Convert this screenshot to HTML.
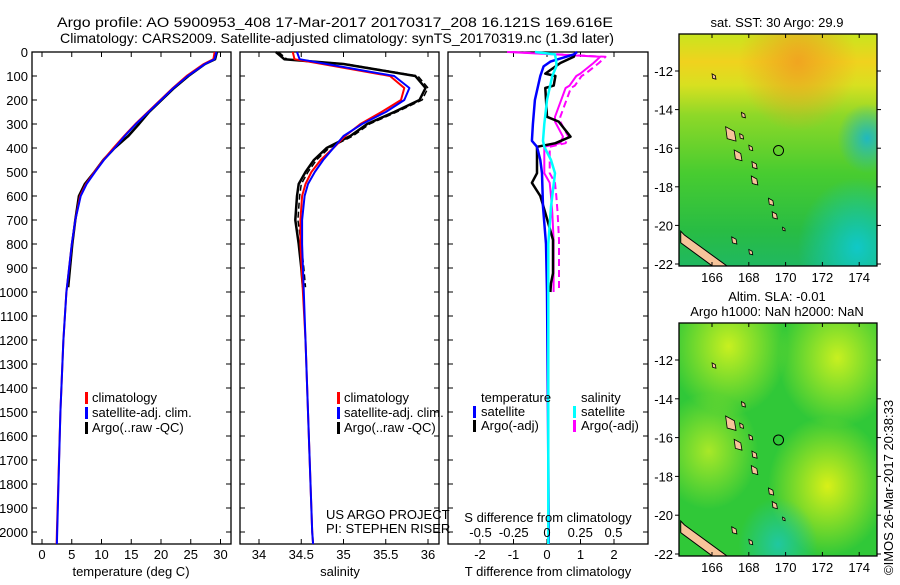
<!DOCTYPE html>
<html><head><meta charset="utf-8"><style>
html,body{margin:0;padding:0;background:#fff}
svg text{font-family:"Liberation Sans",sans-serif;font-size:13px;fill:#000}
</style></head><body>
<svg id="fig" width="900" height="580" viewBox="0 0 900 580" xmlns="http://www.w3.org/2000/svg">
<defs>
<linearGradient id="sstg" x1="0" y1="0" x2="0" y2="1">
<stop offset="0" stop-color="#c8e61e"/><stop offset="0.12" stop-color="#f0d21e"/><stop offset="0.22" stop-color="#d8e020"/><stop offset="0.35" stop-color="#8ed828"/><stop offset="0.6" stop-color="#48cc30"/><stop offset="0.85" stop-color="#28bc44"/><stop offset="1" stop-color="#20b860"/>
</linearGradient>
<radialGradient id="sstorange" cx="0.6" cy="0.12" r="0.3"><stop offset="0" stop-color="#f0a020" stop-opacity="0.9"/><stop offset="1" stop-color="#f0a020" stop-opacity="0"/></radialGradient>
<radialGradient id="sstcyan" cx="0.9" cy="0.92" r="0.3"><stop offset="0" stop-color="#10c8c8"/><stop offset="1" stop-color="#10c8c8" stop-opacity="0"/></radialGradient>
<radialGradient id="sstcyan2" cx="0.95" cy="0.45" r="0.15"><stop offset="0" stop-color="#20b8c0"/><stop offset="1" stop-color="#20b8c0" stop-opacity="0"/></radialGradient>
<radialGradient id="slay1" cx="0.25" cy="0.1" r="0.3"><stop offset="0" stop-color="#c8f020"/><stop offset="1" stop-color="#c8f020" stop-opacity="0"/></radialGradient>
<radialGradient id="slay2" cx="0.8" cy="0.15" r="0.3"><stop offset="0" stop-color="#c8f020"/><stop offset="1" stop-color="#c8f020" stop-opacity="0"/></radialGradient>
<radialGradient id="slay3" cx="0.75" cy="0.7" r="0.3"><stop offset="0" stop-color="#d8f018"/><stop offset="1" stop-color="#d8f018" stop-opacity="0"/></radialGradient>
<radialGradient id="slay4" cx="0.15" cy="0.55" r="0.25"><stop offset="0" stop-color="#a8e828"/><stop offset="1" stop-color="#a8e828" stop-opacity="0"/></radialGradient>
<radialGradient id="slac" cx="0.5" cy="0.95" r="0.2"><stop offset="0" stop-color="#20c8a0"/><stop offset="1" stop-color="#20c8a0" stop-opacity="0"/></radialGradient>
</defs>
<text x="57" y="27" textLength="556" lengthAdjust="spacingAndGlyphs" style="font-size:14px">Argo profile: AO 5900953_408 17-Mar-2017 20170317_208 16.121S 169.616E</text>
<text x="60" y="43" textLength="554" lengthAdjust="spacingAndGlyphs" style="font-size:14px">Climatology: CARS2009. Satellite-adjusted climatology: synTS_20170319.nc (1.3d later)</text>
<g id="p1"></g>
<g id="p2"></g>
<g id="p3"></g>
<g id="m1"></g>
<g id="m2"></g>
<text x="777" y="27" text-anchor="middle">sat. SST: 30 Argo: 29.9</text>
<text x="777" y="301" text-anchor="middle">Altim. SLA: -0.01</text>
<text x="777" y="316" text-anchor="middle">Argo h1000: NaN h2000: NaN</text>
<text transform="translate(893,575) rotate(-90)">©IMOS 26-Mar-2017 20:38:33</text>
</svg>
<script>
const NS='http://www.w3.org/2000/svg';
// ---- data ----
const depthTicks=[0,100,200,300,400,500,600,700,800,900,1000,1100,1200,1300,1400,1500,1600,1700,1800,1900,2000];
const tempTicks=[0,5,10,15,20,25,30];
const salTicks=[34,34.5,35,35.5,36];
const salTickLabels=['34','34.5','35','35.5','36'];
const tdTicks=[-2,-1,0,1,2];
const sdTicks=[-0.5,-0.25,0,0.25,0.5];
const sdTickLabels=['-0.5','-0.25','0','0.25','0.5'];
const lonTicks=[166,168,170,172,174];
const latTicks1=[-12,-14,-16,-18,-20,-22];
const latTicks2=[-12,-14,-16,-18,-20,-22];

const climDepth=[0,30,50,100,150,200,250,300,350,400,450,500,550,600,700,800,1000,1200,1500,2000,2050];
const climTemp=[29.0,28.8,27.2,24.3,22.0,19.9,17.8,15.7,13.8,12.0,10.3,8.8,7.4,6.4,5.6,5.0,4.1,3.6,3.1,2.5,2.45];
const satTemp=[29.3,29.0,27.4,24.5,22.1,20.0,17.9,15.8,13.9,12.2,10.4,8.9,7.5,6.5,5.6,5.0,4.1,3.6,3.1,2.55,2.5];
const argoDepth=[0,30,50,100,150,200,250,300,350,400,450,500,550,600,700,800,900,980];
const argoTemp=[29.4,29.1,27.4,24.6,22.2,20.1,18.0,16.3,14.5,12.2,10.3,8.8,7.2,6.2,5.6,5.1,4.7,4.4];

const climSal=[34.4,34.42,34.75,35.55,35.72,35.68,35.45,35.2,35.02,34.88,34.73,34.62,34.55,34.51,34.49,34.49,34.52,34.55,34.58,34.63,34.64];
const satSal=[34.45,34.48,34.8,35.6,35.78,35.72,35.5,35.22,35.0,34.88,34.76,34.66,34.58,34.54,34.51,34.51,34.53,34.55,34.58,34.63,34.64];
const argoSal=[34.2,34.3,35.0,35.85,35.97,35.9,35.6,35.28,35.08,34.8,34.65,34.55,34.47,34.45,34.43,34.47,34.5,34.52];

const satDiffDepth=[0,10,40,60,100,200,300,370,395,450,505,645,800,1000,1500,2000,2050];
const satTDiff=[0.9,0.8,0.1,-0.1,-0.2,-0.36,-0.42,-0.45,-0.3,-0.2,-0.15,-0.12,-0.03,0.0,0.03,0.05,0.05];
const satSDiff=[-0.09,0.06,0.07,0.07,0.04,0.0,-0.02,-0.03,-0.02,0.03,0.06,0.03,0.01,0.01,0.01,0.01,0.01];
const argoDiffDepth=[0,20,46,90,100,140,150,270,290,353,380,395,505,545,600,670,783,922,963,1000];
const argoTDiff=[0.85,0.8,0.4,-0.05,0.25,0.2,-0.05,0.0,0.35,0.7,0.25,-0.3,-0.3,-0.45,-0.2,-0.05,0.18,0.18,0.12,0.1];
const argoSDiff=[-0.3,0.4,0.35,0.25,0.22,0.17,0.14,0.06,0.06,0.12,0.1,-0.02,-0.02,0.02,0.03,0.04,0.05,0.05,0.05,0.05];

const islandLon=[167.0,167.4,168.1,168.3,168.3,169.2,169.4,167.2,168.1,166.1,167.7,169.9,167.6];
const islandLat=[-15.3,-16.4,-16.0,-16.9,-17.7,-18.8,-19.5,-20.8,-21.4,-12.3,-14.3,-20.2,-15.4];
const islandSize=[8,6,3,4,5,4,4,4,3,3,3,2,3];
const argoLon=169.616, argoLat=-16.121;

// ---- helpers ----
function mk(tag,attrs,parent){const e=document.createElementNS(NS,tag);for(const k in attrs)e.setAttribute(k,attrs[k]);parent.appendChild(e);return e;}
const Y0=52,YPX=0.24;
const yD=d=>Y0+d*YPX;
function frame(g,x0,x1,yt,yb){const r=mk('rect',{x:x0,y:yt,width:x1-x0,height:yb-yt,fill:'none',stroke:'#000','stroke-width':1.3},g);}
function line(g,xs,ds,xf,color,name,w,dash){
  const pts=xs.map((v,i)=>xf(v).toFixed(1)+','+yD(ds[i]).toFixed(1)).join(' ');
  const p=mk('polyline',{points:pts,fill:'none',stroke:color,'stroke-width':w||2,'stroke-linejoin':'round'},g);
  if(dash)p.setAttribute('stroke-dasharray',dash);
  
  
}
function txt(g,x,y,s,anchor,name){const t=mk('text',{x:x,y:y,'text-anchor':anchor||'start'},g);t.textContent=s;return t;}
function tick(g,x1,y1,x2,y2){const l=mk('line',{x1:x1,y1:y1,x2:x2,y2:y2,stroke:'#000','stroke-width':1},g);}
function legendMark(g,x,y,color,name){const r=mk('rect',{x:x,y:y-10,width:3,height:12,fill:color},g);}
const TOP=52,BOT=544;

// ---- panel 1: temperature ----
const p1=document.getElementById('p1');
const xT=t=>42+t*5.95;
frame(p1,32,231,TOP,BOT);
depthTicks.forEach(d=>{tick(p1,32,yD(d),37,yD(d));tick(p1,226,yD(d),231,yD(d));txt(p1,28,yD(d)+5,String(d),'end','depth-tick-label');});
tempTicks.forEach(t=>{tick(p1,xT(t),BOT,xT(t),BOT-5);tick(p1,xT(t),TOP,xT(t),TOP+5);txt(p1,xT(t),559,String(t),'middle','temp-tick-label');});
txt(p1,131,576,'temperature (deg C)','middle','temp-axis-title');
line(p1,argoTemp,argoDepth,xT,'#000','argo-temp-line',2.5);
line(p1,climTemp,climDepth,xT,'#f00','clim-temp-line',2);
line(p1,satTemp,climDepth,xT,'#00f','sat-temp-line',2);
legendMark(p1,85,402,'#f00','legend-clim-mark');txt(p1,92,402,'climatology','start','legend-clim');
legendMark(p1,85,417,'#00f','legend-sat-mark');txt(p1,92,417,'satellite-adj. clim.','start','legend-sat');
legendMark(p1,85,432,'#000','legend-argo-mark');txt(p1,92,432,'Argo(..raw -QC)','start','legend-argo');

// ---- panel 2: salinity ----
const p2=document.getElementById('p2');
const xS=s=>259+(s-34)*84.5;
frame(p2,240,439,TOP,BOT);
depthTicks.forEach(d=>{tick(p2,240,yD(d),245,yD(d));tick(p2,434,yD(d),439,yD(d));});
salTicks.forEach((s,i)=>{tick(p2,xS(s),BOT,xS(s),BOT-5);tick(p2,xS(s),TOP,xS(s),TOP+5);txt(p2,xS(s),559,salTickLabels[i],'middle','sal-tick-label');});
txt(p2,340,576,'salinity','middle','sal-axis-title');
line(p2,argoSal,argoDepth,xS,'#000','argo-sal-line',2.5);
line(p2,argoSal.map(v=>v+0.03),argoDepth,xS,'#000','argo-sal-line-2',1.5,'6,3');
line(p2,climSal,climDepth,xS,'#f00','clim-sal-line',2);
line(p2,satSal,climDepth,xS,'#00f','sat-sal-line',2);
legendMark(p2,337,402,'#f00','legend-clim-mark');txt(p2,344,402,'climatology','start','legend-clim');
legendMark(p2,337,417,'#00f','legend-sat-mark');txt(p2,344,417,'satellite-adj. clim.','start','legend-sat');
legendMark(p2,337,432,'#000','legend-argo-mark');txt(p2,344,432,'Argo(..raw -QC)','start','legend-argo');
txt(p2,326,519,'US ARGO PROJECT','start','project-label');
txt(p2,326,533,'PI: STEPHEN RISER','start','pi-label');

// ---- panel 3: differences ----
const p3=document.getElementById('p3');
const xTD=t=>547+t*33.5;
const xSD=s=>547+s*133;
frame(p3,448,648,TOP,BOT);
depthTicks.forEach(d=>{tick(p3,448,yD(d),453,yD(d));tick(p3,643,yD(d),648,yD(d));});
tdTicks.forEach(t=>{tick(p3,xTD(t),BOT,xTD(t),BOT-5);tick(p3,xTD(t),TOP,xTD(t),TOP+5);txt(p3,xTD(t),559,String(t),'middle','tdiff-tick-label');});
line(p3,argoSDiff,argoDiffDepth,xSD,'#f0f','argo-sdiff-line',2);
line(p3,argoSDiff.map(v=>v+0.04),argoDiffDepth,xSD,'#f0f','argo-sdiff-line-2',2,'7,4');
line(p3,argoTDiff,argoDiffDepth,xTD,'#000','argo-tdiff-line',2.5);
line(p3,satTDiff,satDiffDepth,xTD,'#00f','sat-tdiff-line',2.5);
line(p3,satSDiff,satDiffDepth,xSD,'#0ff','sat-sdiff-line',2.5);
sdTicks.forEach((s,i)=>{txt(p3,xSD(s),537,sdTickLabels[i],'middle','sdiff-tick-label');});
txt(p3,548,522,'S difference from climatology','middle','sdiff-axis-title');
txt(p3,548,576,'T difference from climatology','middle','tdiff-axis-title');
txt(p3,481,402,'temperature','start','legend-temp-heading');
legendMark(p3,473,416,'#00f','legend-tsat-mark');txt(p3,481,416,'satellite','start','legend-tsat');
legendMark(p3,473,430,'#000','legend-targo-mark');txt(p3,481,430,'Argo(-adj)','start','legend-targo');
txt(p3,581,402,'salinity','start','legend-sal-heading');
legendMark(p3,573,416,'#0ff','legend-ssat-mark');txt(p3,581,416,'satellite','start','legend-ssat');
legendMark(p3,573,430,'#f0f','legend-sargo-mark');txt(p3,581,430,'Argo(-adj)','start','legend-sargo');

// ---- maps ----
function map(id,x0,x1,yt,yb,latTop,latScale,latTicks,layers){
  const g=document.getElementById(id);
  const xL=l=>712+(l-166)*18.4;
  const yL=l=>latTop+(-l-12)*latScale;
  const cp=mk('clipPath',{id:id+'clip'},g);mk('rect',{x:x0,y:yt,width:x1-x0,height:yb-yt},cp);
  const bg=mk('g',{'clip-path':'url(#'+id+'clip)'},g);
  layers.forEach(f=>{const r=mk('rect',{x:x0,y:yt,width:x1-x0,height:yb-yt,fill:f},bg);});
  const nc=mk('polygon',{points:[[164.3,-20.3],[164.5,-20.5],[167.1,-22.3],[166.3,-22.3],[164.3,-20.9]].map(p=>xL(p[0])+','+yL(p[1])).join(' '),fill:'#f7c49a',stroke:'#000','stroke-width':1},bg);
  
  islandLon.forEach((lo,i)=>{const cx=xL(lo),cy=yL(islandLat[i]),s=islandSize[i];
    const p=mk('polygon',{points:`${cx-s*0.6},${cy-s} ${cx+s*0.5},${cy-s*0.4} ${cx+s*0.7},${cy+s*0.8} ${cx-s*0.4},${cy+s*0.5}`,fill:'#f7c49a',stroke:'#000','stroke-width':0.8},bg);
    });
  const c=mk('circle',{cx:xL(argoLon),cy:yL(argoLat),r:5,fill:'none',stroke:'#000','stroke-width':1},bg);
  
  frame(g,x0,x1,yt,yb);
  lonTicks.forEach(l=>{tick(g,xL(l),yb,xL(l),yb-4);tick(g,xL(l),yt,xL(l),yt+4);txt(g,xL(l),yb+16,String(l),'middle','lon-tick-label');});
  latTicks.forEach(l=>{const y=yL(l);if(y<yt-2||y>yb+2)return;tick(g,x0,y,x0-4,y);tick(g,x1,y,x1+4,y);txt(g,x0-6,y+5,String(l),'end','lat-tick-label');});
}
map('m1',679,877,34,266,71,19.3,latTicks1,['url(#sstg)','url(#sstorange)','url(#sstcyan)','url(#sstcyan2)']);
map('m2',679,877,323,556,360,19.4,latTicks2,['#30c838','url(#slay1)','url(#slay2)','url(#slay3)','url(#slay4)','url(#slac)']);
</script>
</body></html>
